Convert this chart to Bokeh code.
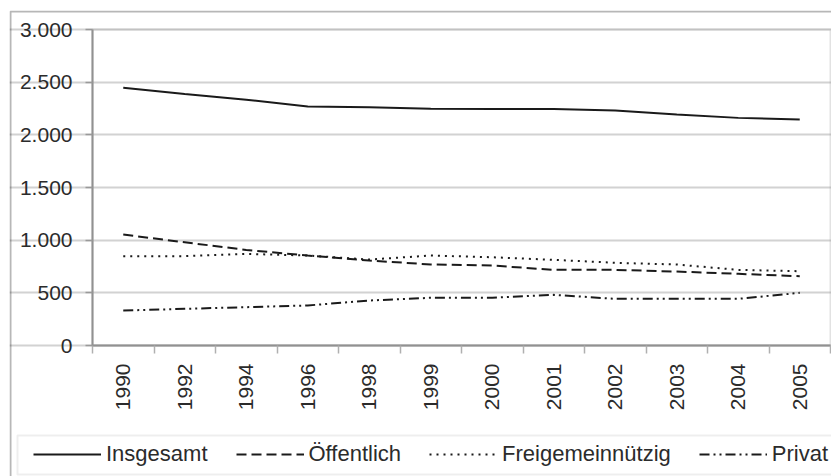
import math
from bokeh.plotting import figure
from bokeh.models import (Range1d, FixedTicker, Legend, LegendItem, BoxAnnotation,
                          LinearAxis, Grid)
from bokeh.embed import file_html
from bokeh.resources import INLINE

years = ["1990", "1992", "1994", "1996", "1998", "1999", "2000", "2001", "2002", "2003", "2004", "2005"]
insgesamt = [2446, 2387, 2334, 2268, 2262, 2248, 2246, 2246, 2230, 2192, 2161, 2145]
oeffentlich = [1053, 980, 907, 854, 807, 769, 759, 718, 718, 702, 680, 658]
freigemeinnuetzig = [848, 848, 870, 854, 816, 854, 838, 813, 785, 769, 718, 705]
privat = [332, 348, 364, 380, 427, 453, 453, 481, 443, 443, 443, 500]

y_ticks = [0, 500, 1000, 1500, 2000, 2500, 3000]
y_tick_labels = ["0", "500", "1.000", "1.500", "2.000", "2.500", "3.000"]
y_max = 3000

FONT = "Liberation Sans"
TXT = "#2b2b2b"

# ---- layout (pixels on the canvas) ----
W, H = 831, 476
FRAME_L, FRAME_T = 9, 10            # outer box (the bokeh frame)
AREA_L, AREA_R = 92, 830            # plot area
AREA_T, AREA_B = 29, 345

n = len(years)
x = [i + 0.5 for i in range(n)]

px_x = (AREA_R - AREA_L) / n
px_y = (AREA_B - AREA_T) / y_max
x_range = Range1d(0 - (AREA_L - FRAME_L) / px_x, n + (W - AREA_R) / px_x)
y_range = Range1d(0 - (H - AREA_B) / px_y, y_max + (AREA_T - FRAME_T) / px_y)

p = figure(width=W, height=H, output_backend="svg", toolbar_location=None,
           x_range=x_range, y_range=y_range,
           x_axis_location=None, y_axis_location=None,
           min_border_left=FRAME_L, min_border_right=0,
           min_border_top=FRAME_T, min_border_bottom=0)
p.background_fill_color = "white"
p.border_fill_color = "white"
p.outline_line_color = None
p.grid.visible = False

ygrid = Grid(dimension=1, ticker=FixedTicker(ticks=y_ticks), bounds=(0, n),
             grid_line_color="#d2d2d2", grid_line_width=2)
p.add_layout(ygrid)

# plot area box
area = BoxAnnotation(left=0, right=n, bottom=0, top=y_max,
                     fill_color=None, line_color="#a0a0a0", line_width=2)
p.add_layout(area)

# y axis
yaxis = LinearAxis(fixed_location=0, bounds=(0, y_max), ticker=FixedTicker(ticks=y_ticks))
yaxis.major_label_overrides = {t: l for t, l in zip(y_ticks, y_tick_labels)}
yaxis.major_label_text_font = FONT
yaxis.major_label_text_font_size = "21px"
yaxis.major_label_text_color = TXT
yaxis.major_label_standoff = 13
yaxis.major_tick_out = 7
yaxis.major_tick_in = 0
yaxis.minor_tick_line_color = None
yaxis.major_tick_line_color = "#999999"
yaxis.major_tick_line_width = 1.5
yaxis.axis_line_color = "#8c8c8c"
yaxis.axis_line_width = 2
p.add_layout(yaxis, "left")

# x axis: labels at category centres, ticks at category boundaries
xaxis = LinearAxis(fixed_location=0, bounds=(0, n),
                   ticker=FixedTicker(ticks=x, minor_ticks=list(range(n + 1))))
xaxis.major_label_overrides = {xi: y for xi, y in zip(x, years)}
xaxis.major_label_orientation = math.pi / 2
xaxis.major_label_text_font = FONT
xaxis.major_label_text_font_size = "21px"
xaxis.major_label_text_color = TXT
xaxis.major_label_standoff = 10
xaxis.major_tick_line_color = None
xaxis.major_tick_out = 0
xaxis.major_tick_in = 0
xaxis.minor_tick_out = 8
xaxis.minor_tick_in = 0
xaxis.minor_tick_line_color = "#b0b0b0"
xaxis.minor_tick_line_width = 1.5
xaxis.axis_line_color = "#8c8c8c"
xaxis.axis_line_width = 2
p.add_layout(xaxis, "below")

r1 = p.line(x, insgesamt, line_color="#1a1a1a", line_width=2)
r2 = p.line(x, oeffentlich, line_color="#1a1a1a", line_width=2, line_dash="10 5")
r3 = p.line(x, freigemeinnuetzig, line_color="#1a1a1a", line_width=2, line_dash="2 5")
r4 = p.line(x, privat, line_color="#1a1a1a", line_width=2, line_dash="10 4 2 4 2 4")

# legend box and outer box
legend_box = BoxAnnotation(left=17, right=3000, top=435, bottom=474,
                           left_units="canvas", right_units="canvas",
                           top_units="canvas", bottom_units="canvas",
                           fill_color=None, line_color="#c8c8c8", line_width=2)
outer = BoxAnnotation(left=FRAME_L + 1, right=3000, top=FRAME_T + 1, bottom=3000,
                      left_units="canvas", right_units="canvas",
                      top_units="canvas", bottom_units="canvas",
                      fill_color=None, line_color="#111111", line_width=2)
p.add_layout(legend_box)
p.add_layout(outer)

legend = Legend(items=[LegendItem(label="Insgesamt", renderers=[r1]),
                       LegendItem(label="Öffentlich", renderers=[r2]),
                       LegendItem(label="Freigemeinnützig", renderers=[r3]),
                       LegendItem(label="Privat", renderers=[r4])],
                orientation="horizontal", location=(33 - FRAME_L, 9),
                glyph_width=68, glyph_height=20, label_standoff=5, spacing=28,
                padding=0, margin=0, border_line_color=None, background_fill_alpha=0,
                label_text_font=FONT, label_text_font_size="22px", label_text_color=TXT)
p.add_layout(legend)

open("out.html", "w").write(file_html(p, INLINE))
